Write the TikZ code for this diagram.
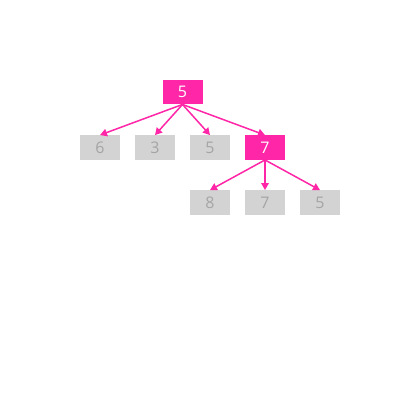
\documentclass[tikz,border=0pt]{standalone}
\usepackage{fontspec}
\setmainfont{Open Sans}
\usetikzlibrary{arrows.meta}
\definecolor{hot}{RGB}{255,38,168}
\definecolor{boxgray}{RGB}{211,211,211}
\definecolor{txtgray}{RGB}{165,165,165}
\begin{document}
\begin{tikzpicture}[x=1pt,y=-1pt,
  hotbox/.style={fill=hot,draw=none,minimum width=40pt,minimum height=24.5pt,inner sep=0pt,text=white,font=\fontsize{16}{16}\selectfont},
  graybox/.style={fill=boxgray,draw=none,minimum width=40pt,minimum height=24.5pt,inner sep=0pt,text=txtgray,font=\fontsize{16}{16}\selectfont},
  link/.style={draw=hot,line width=1.5pt,-{Triangle[length=7pt,width=7.5pt]}}]
\useasboundingbox (0,0) rectangle (420,405);
\node[hotbox] (r) at (182.5,92) {5};
\node[graybox] (a) at (100,147.5) {6};
\node[graybox] (b) at (155,147.5) {3};
\node[graybox] (c) at (210,147.5) {5};
\node[hotbox] (d) at (265,147.5) {7};
\node[graybox] (e) at (210,202.5) {8};
\node[graybox] (f) at (265,202.5) {7};
\node[graybox] (g) at (320,202.5) {5};
\foreach \t in {a,b,c,d} \draw[link] (r.south) -- (\t.north);
\foreach \t in {e,f,g} \draw[link] (d.south) -- (\t.north);
\end{tikzpicture}
\end{document}
